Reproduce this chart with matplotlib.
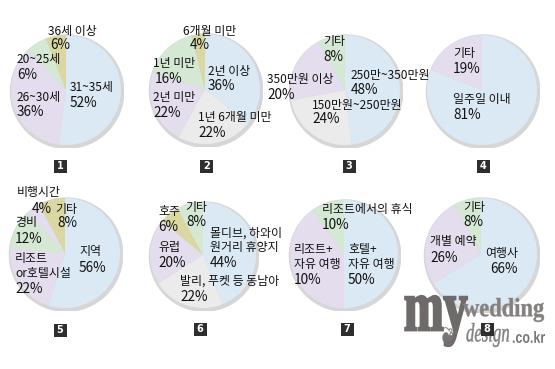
import matplotlib
matplotlib.use("Agg")
import matplotlib.pyplot as plt
from matplotlib.patches import Circle, Rectangle, PathPatch
from matplotlib.textpath import TextPath
from matplotlib.font_manager import FontProperties
from matplotlib.path import Path

W, H = 555, 369
FONT = ['Noto Sans CJK KR', 'DejaVu Sans']

BLUE = '#dbe9f5'
LAV = '#e4ddee'
GREEN = '#d4e8d4'
KHAKI = '#dad7a3'
GRAY = '#ebebeb'

# ---- data ----
pie1_names = ['31~35세', '26~30세', '20~25세', '36세 이상']
pie1_values = [52, 36, 6, 6]
pie2_names = ['2년 이상', '1년 6개월 미만', '2년 미만', '1년 미만', '6개월 미만']
pie2_values = [36, 22, 22, 16, 4]
pie3_names = ['250만~350만원', '150만원~250만원', '350만원 이상', '기타']
pie3_values = [48, 24, 20, 8]
pie4_names = ['일주일 이내', '기타']
pie4_values = [81, 19]
pie5_names = ['지역', '리조트\nor호텔시설', '경비', '비행시간', '기타']
pie5_values = [56, 22, 12, 4, 8]
pie6_names = ['몰디브, 하와이\n원거리 휴양지', '발리, 푸켓 등 동남아', '유럽', '호주', '기타']
pie6_values = [44, 22, 20, 6, 8]
pie7_names = ['호텔+\n자유 여행', '리조트+\n자유 여행', '리조트에서의 휴식']
pie7_values = [50, 40, 10]
pie7_pct_text = ['50%', '10%', '10%']
pie8_names = ['여행사', '개별 예약', '기타']
pie8_values = [66, 26, 8]
panel_numbers = ['1', '2', '3', '4', '5', '6', '7', '8']
watermark_parts = ['my', 'wedding', 'design', '.co.kr']

pies = [
    dict(names=pie1_names, values=pie1_values, colors=[BLUE, LAV, GREEN, KHAKI]),
    dict(names=pie2_names, values=pie2_values, colors=[BLUE, GRAY, LAV, GREEN, KHAKI]),
    dict(names=pie3_names, values=pie3_values, colors=[BLUE, GRAY, LAV, GREEN]),
    dict(names=pie4_names, values=pie4_values, colors=[BLUE, LAV]),
    dict(names=pie5_names, values=pie5_values, colors=[BLUE, LAV, GREEN, LAV, KHAKI]),
    dict(names=pie6_names, values=pie6_values, colors=[BLUE, GRAY, LAV, KHAKI, GREEN]),
    dict(names=pie7_names, values=pie7_values, colors=[BLUE, LAV, GREEN], pct=pie7_pct_text),
    dict(names=pie8_names, values=pie8_values, colors=[BLUE, LAV, GREEN]),
]

# ---- layout (pixels) ----
centers = [(66, 90), (205, 89), (345, 90), (482, 90),
           (65, 253), (203, 255), (344, 254), (481, 254)]
radius = [55, 55, 55, 55, 55, 53, 54, 56]
box_centers = [(60, 166), (207, 166), (349, 166), (483, 166),
               (60, 330), (200, 329), (347, 329), (487, 329)]
# label positions: (name_x, name_y, pct_x, pct_y) per slice
label_pos = [
    [(70, 88, 70, 103), (17, 97, 17, 112), (17, 60, 17, 75), (48, 31, 50, 45)],
    [(208, 71, 208, 86), (198, 117, 198, 133), (153, 98, 153, 113), (153, 63, 155, 79), (183, 32, 190, 45)],
    [(351, 76, 351, 90), (312, 105, 312, 119), (267, 79, 267, 95), (323, 42, 323, 57)],
    [(453, 99, 453, 115), (453, 53, 453, 69)],
    [(79, 252, 79, 268), (15, 266, 15, 289), (15, 223, 15, 239), (17, 193, 32, 209), (55, 209, 57, 223)],
    [(210, 240, 210, 263), (180, 281, 180, 297), (158, 248, 158, 263), (158, 212, 158, 227), (185, 207, 186, 222)],
    [(348, 257, 348, 280), (294, 257, 294, 280), (322, 209, 322, 225)],
    [(485, 253, 490, 269), (430, 242, 430, 258), (463, 208, 463, 222)],
]

FS = 8.6
fig = plt.figure(figsize=(W / 100, H / 100), dpi=100)
fig.patch.set_facecolor('white')


def fx(x):
    return x / W


def fy(y):
    return 1 - y / H


def fit_text(s, prop, x0, y0, x1, y1, color, z, lw=0.0):
    """Draw text s as a path stretched into pixel box (x0,y0)-(x1,y1), y down."""
    tp = TextPath((0, 0), s, size=1, prop=prop)
    v = tp.vertices
    gx0, gy0 = v[:, 0].min(), v[:, 1].min()
    gx1, gy1 = v[:, 0].max(), v[:, 1].max()
    sx = (x1 - x0) / (gx1 - gx0)
    sy = (y1 - y0) / (gy1 - gy0)
    nv = v.copy()
    nv[:, 0] = fx(x0 + (v[:, 0] - gx0) * sx)
    nv[:, 1] = fy(y1 - (v[:, 1] - gy0) * sy)
    path = Path(nv, tp.codes)
    fig.patches.append(PathPatch(path, transform=fig.transFigure, facecolor=color,
                                 edgecolor=color if lw else 'none', linewidth=lw, zorder=z))


for i, p in enumerate(pies):
    cx, cy = centers[i]
    r = radius[i]
    ax = fig.add_axes([fx(cx - r - 3), fy(cy + r + 3), (2 * r + 6) / W, (2 * r + 6) / H])
    ax.set_axis_off()
    lim = (r + 3) / r
    ax.add_patch(Circle((0.02, -0.03), 1.03, color='#d6d6d6', zorder=0))
    ax.pie(p['values'], colors=p['colors'], startangle=90, counterclock=False, radius=1,
           wedgeprops=dict(edgecolor='none'))
    ax.set_xlim(-lim, lim)
    ax.set_ylim(-lim, lim)
    ax.patch.set_alpha(0)
    pcts = p.get('pct', [f'{v}%' for v in p['values']])
    for (nx, ny, px, py), name, pct in zip(label_pos[i], p['names'], pcts):
        fig.text(fx(nx), fy(ny), name, fontsize=FS, family=FONT, ha='left', va='center',
                 color='#111111', linespacing=1.15, zorder=5, fontweight='light')
        fig.text(fx(px), fy(py), pct, fontsize=FS + 1.2, family=FONT, ha='left', va='center',
                 color='#111111', zorder=5, fontweight='light')

# watermark (over the last pie, under the number box)
serif_b = FontProperties(family='Liberation Serif', weight='bold')
serif = FontProperties(family='Liberation Serif', weight='bold')
serif_i = FontProperties(family='Liberation Serif', style='italic')
sans_b = FontProperties(family='Liberation Sans', weight='bold')
fit_text(watermark_parts[0], serif_b, 404, 296, 467, 346, '#6f6a6a', 4, lw=1.6)
fit_text(watermark_parts[1], serif, 463, 298, 544, 322, '#858080', 4, lw=0.3)
fit_text(watermark_parts[2], serif_i, 466, 323, 509, 347, '#858080', 4, lw=0.3)
fit_text(watermark_parts[3], sans_b, 512, 331, 545, 343, '#7a7575', 4)
fig.text(fx(447), fy(338), '\u2766', fontsize=17, family='DejaVu Sans', color='#7a7575',
         ha='center', va='center', rotation=-20, zorder=4)

for i in range(len(pies)):
    bx, by = box_centers[i]
    fig.patches.append(Rectangle((fx(bx - 6.5), fy(by + 6.5)), 13 / W, 13 / H,
                                 transform=fig.transFigure, facecolor='#2e2e2e',
                                 edgecolor='none', zorder=6))
    fig.text(fx(bx), fy(by), panel_numbers[i], fontsize=7, family='DejaVu Sans',
             fontweight='bold', color='white', ha='center', va='center', zorder=7)

fig.savefig('out.png', dpi=100, facecolor='white')
